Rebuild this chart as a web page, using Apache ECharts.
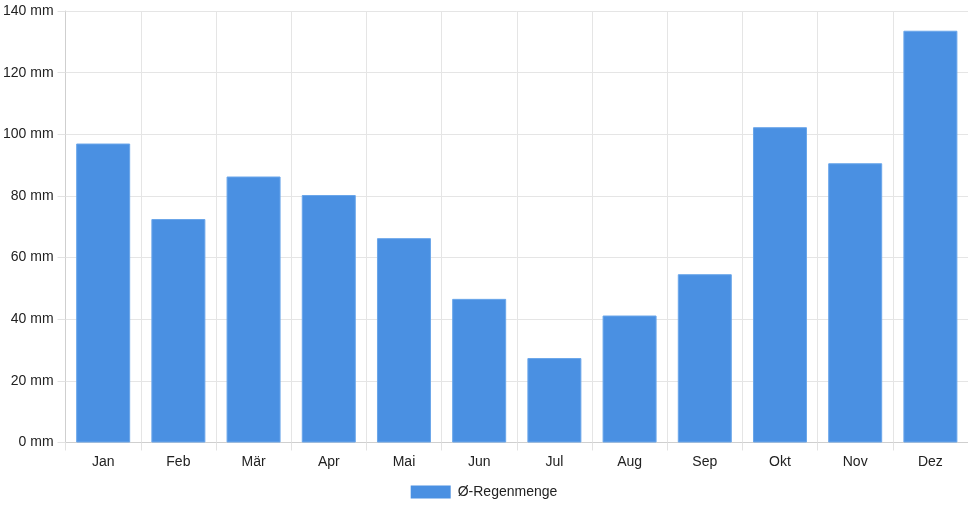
<!DOCTYPE html>
<html>
<head>
<meta charset="utf-8">
<script src="https://cdn.jsdelivr.net/npm/echarts@6/dist/echarts.min.js"></script>
<style>
    html, body { margin: 0; padding: 0; background: #fff; }
    #chart { width: 968px; height: 508px; }
</style>
</head>
<body>
<div id="chart"></div>
<script>
// Monatliche Regenmenge
var monate = ['Jan', 'Feb', 'Mär', 'Apr', 'Mai', 'Jun', 'Jul', 'Aug', 'Sep', 'Okt', 'Nov', 'Dez'];
var regenmenge = [97, 72.5, 86.3, 80.3, 66.3, 46.6, 27.4, 41.2, 54.6, 102.3, 90.6, 133.6];
var yTicks = [0, 20, 40, 60, 80, 100, 120, 140];

var myChart = echarts.init(document.getElementById('chart'));

var option = {
    animation: false,
    textStyle: { fontFamily: 'Liberation Sans, Arial, sans-serif' },
    grid: { left: 64, right: 0, top: 11, bottom: 65.5, containLabel: false },
    legend: {
        bottom: 4,
        left: 'center',
        icon: 'rect',
        itemWidth: 40,
        itemHeight: 13,
        itemGap: 10,
        itemStyle: { borderWidth: 0 },
        textStyle: { color: '#222', fontSize: 14, padding: [0, 0, 0, 2] },
        data: ['Ø-Regenmenge']
    },
    xAxis: {
        type: 'category',
        data: monate,
        boundaryGap: true,
        axisLine: { lineStyle: { color: '#cfcfcf' } },
        axisTick: { show: true, length: 8, lineStyle: { color: '#e2e2e2' } },
        axisLabel: { color: '#222', fontSize: 14, margin: 13 },
        splitLine: { show: true, lineStyle: { color: '#e5e5e5' } }
    },
    yAxis: {
        type: 'value',
        min: yTicks[0],
        max: yTicks[yTicks.length - 1],
        interval: 20,
        axisLine: { show: true, lineStyle: { color: '#cfcfcf' } },
        axisTick: { show: true, length: 8, lineStyle: { color: '#e2e2e2' } },
        axisLabel: { color: '#222', fontSize: 14, margin: 12, formatter: '{value} mm' },
        splitLine: { show: true, lineStyle: { color: '#e5e5e5' } }
    },
    series: [
        {
            name: 'Ø-Regenmenge',
            type: 'bar',
            data: regenmenge,
            barWidth: 54,
            itemStyle: { color: '#4a90e2', borderColor: '#6aa6ea', borderWidth: 1 }
        }
    ]
};

option && myChart.setOption(option);
</script>
</body>
</html>
